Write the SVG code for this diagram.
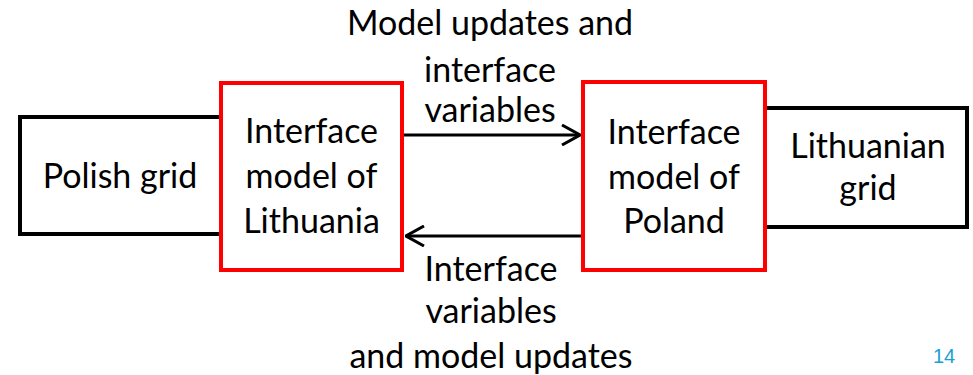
<svg xmlns="http://www.w3.org/2000/svg" width="973" height="375" viewBox="0 0 973 375">
  <style>
    .t { font-family: Lato, "Open Sans", "Liberation Sans", sans-serif; font-size: 34px; fill: #000; text-anchor: middle; }
    .grid { fill: #fff; stroke: #000; stroke-width: 4; }
    .iface { fill: #fff; stroke: #ff0000; stroke-width: 4; }
    .conn { fill: none; stroke: #000; stroke-width: 3; }
    .pg { font-family: "Liberation Sans", sans-serif; font-size: 20px; fill: #1a9fd6; }
  </style>
  <defs>
    <marker id="open-arrow" viewBox="0 0 20 22" refX="19" refY="11" markerWidth="20" markerHeight="22" markerUnits="userSpaceOnUse" orient="auto">
      <path d="M1,1 L19,11 L1,21" fill="none" stroke="#000" stroke-width="3"/>
    </marker>
  </defs>

  <g id="polish-grid">
    <rect class="grid" x="20" y="117" width="240" height="117"/>
    <text class="t" x="120" y="188">Polish grid</text>
  </g>

  <g id="lithuanian-grid">
    <rect class="grid" x="720" y="108" width="247" height="119"/>
    <text class="t" x="868" y="158">Lithuanian</text>
    <text class="t" x="868" y="200">grid</text>
  </g>

  <g id="interface-lithuania">
    <rect class="iface" x="221" y="83" width="181" height="187"/>
    <text class="t" x="311.5" y="143">Interface</text>
    <text class="t" x="311.5" y="188">model of</text>
    <text class="t" x="311.5" y="233">Lithuania</text>
  </g>

  <g id="interface-poland">
    <rect class="iface" x="583" y="82" width="182" height="188"/>
    <text class="t" x="674" y="144">Interface</text>
    <text class="t" x="674" y="189">model of</text>
    <text class="t" x="674" y="233">Poland</text>
  </g>

  <g id="connectors">
    <line class="conn" x1="404" y1="135" x2="580" y2="135" marker-end="url(#open-arrow)"/>
    <line class="conn" x1="581" y1="236" x2="406" y2="236" marker-end="url(#open-arrow)"/>
  </g>

  <g id="labels">
    <text class="t" x="490" y="35">Model updates and</text>
    <text class="t" x="490" y="82">interface</text>
    <text class="t" x="490" y="122">variables</text>
    <text class="t" x="491" y="281">Interface</text>
    <text class="t" x="491" y="323">variables</text>
    <text class="t" x="491" y="368">and model updates</text>
  </g>

  <text class="pg" x="933" y="363">14</text>
</svg>
